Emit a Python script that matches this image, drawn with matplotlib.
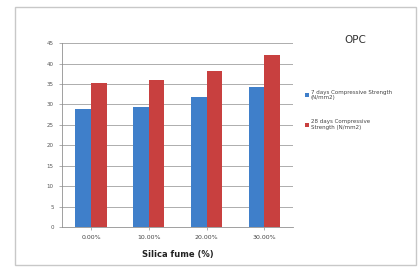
import numpy as np
import matplotlib.pyplot as plt
from matplotlib.patches import Rectangle

categories = ['0.00%', '10.00%', '20.00%', '30.00%']
day7 = [29.0, 29.5, 31.8, 34.2]
day28 = [35.2, 35.9, 38.1, 42.0]
series_names = ['7 days Compressive Strength\n(N/mm2)', '28 days Compressive\nStrength (N/mm2)']
yticks = np.arange(0, 50, 5)

fig = plt.figure(figsize=(4.2, 2.73), dpi=100)
fig.patch.set_facecolor('white')
# outer chart frame
fig.add_artist(Rectangle((0.036, 0.03), 0.955, 0.945, transform=fig.transFigure,
                         fill=False, edgecolor='#c8c8c8', linewidth=1.0))

ax = fig.add_axes([0.148, 0.168, 0.55, 0.674])
x = np.arange(len(categories))
w = 0.27
ax.bar(x - w / 2, day7, w, color='#3f7fca', label=series_names[0], zorder=3)
ax.bar(x + w / 2, day28, w, color='#c8403f', label=series_names[1], zorder=3)

ax.set_ylim(0, 45)
ax.set_yticks(yticks)
ax.set_yticklabels([str(v) for v in yticks], fontsize=4, color='#555555')
ax.set_xlim(-0.5, len(categories) - 0.5)
ax.set_xticks(x)
ax.set_xticklabels(categories, fontsize=4.5, color='#444444')
ax.yaxis.grid(True, color='#a0a0a0', linewidth=0.6, zorder=0)
for s in ['top', 'right']:
    ax.spines[s].set_visible(False)
ax.spines['left'].set_color('#909090')
ax.spines['bottom'].set_color('#909090')
ax.spines['left'].set_linewidth(0.6)
ax.spines['bottom'].set_linewidth(0.6)
ax.tick_params(axis='both', length=2, width=0.5, color='#909090', pad=4)
ax.set_xlabel('Silica fume (%)', fontsize=6, fontweight='bold', labelpad=7, color='#222222')

fig.text(0.845, 0.855, 'OPC', fontsize=7.5, ha='center', va='center', color='#333333')
fig.legend(loc='upper left', bbox_to_anchor=(0.715, 0.69), fontsize=4, frameon=False,
           handlelength=0.6, handleheight=0.6, labelspacing=3.4, handletextpad=0.4,
           labelcolor='#444444')

fig.savefig('out.png', dpi=100)
